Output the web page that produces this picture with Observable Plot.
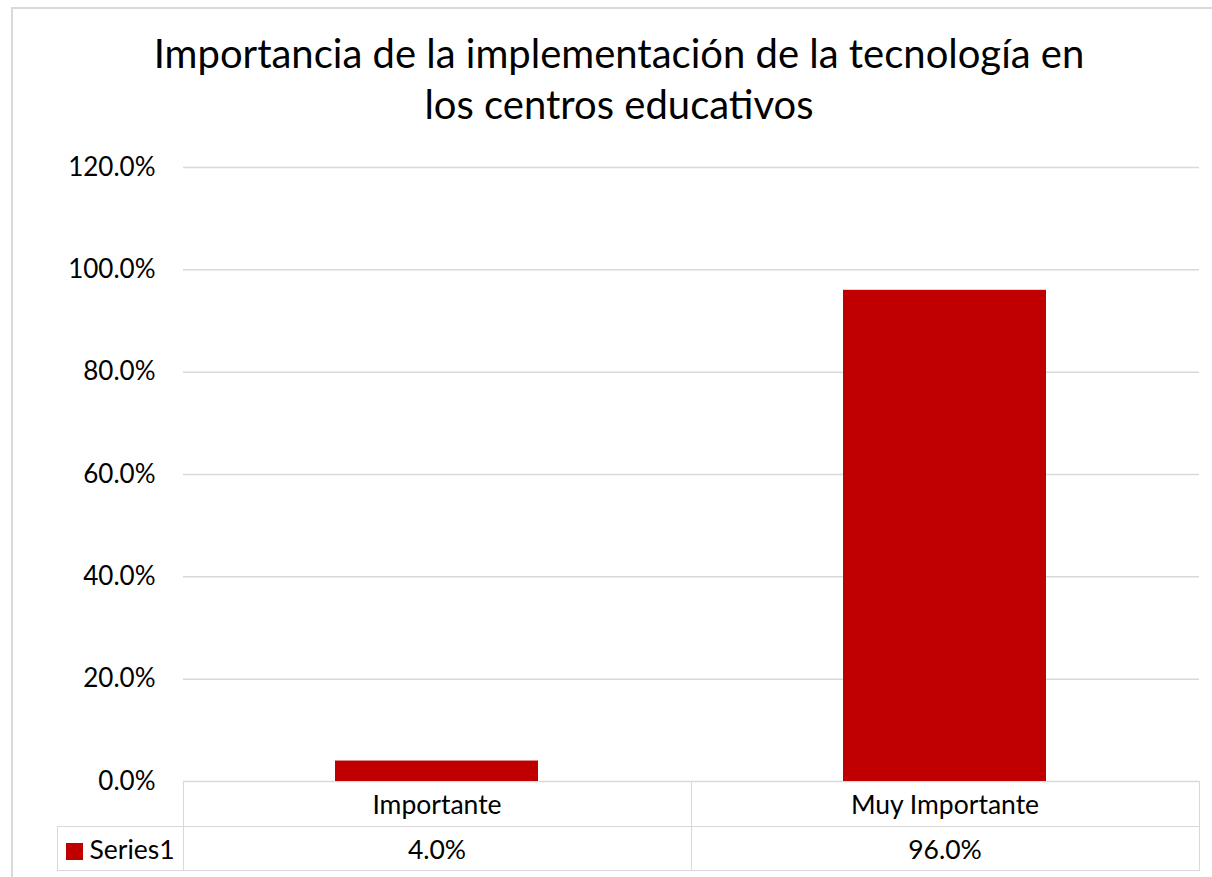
<!DOCTYPE html>
<html>
<head>
<meta charset="utf-8">
<script src="https://cdn.jsdelivr.net/npm/d3@7"></script>
<script src="https://cdn.jsdelivr.net/npm/@observablehq/plot@0.6"></script>
<style>
html,body{margin:0;padding:0;background:#fff;width:1212px;height:877px;overflow:hidden;font-family:Lato,"Open Sans",sans-serif;color:#000;}
#frame{position:absolute;left:11px;top:7px;width:1240px;height:900px;border:2px solid #d9d9d9;box-sizing:border-box;}
#title{position:absolute;left:119px;width:1000px;top:28px;text-align:center;font-size:40px;line-height:51px;color:#000;}
#chart{position:absolute;left:0;top:0;}
#dtable{position:absolute;border-collapse:collapse;table-layout:fixed;font-size:26.5px;}
#dtable td{border:1.5px solid #d9d9d9;padding:0;text-align:center;vertical-align:middle;white-space:nowrap;}
#dtable td.blank{border-top-style:hidden;border-left-style:hidden;}
#dtable td.key{text-align:left;padding-left:8px;}
.swatch{display:inline-block;width:17px;height:17px;background:#C00000;margin-right:7px;vertical-align:-1px;}
</style>
</head>
<body>
<div id="frame"></div>
<div id="title">Importancia de la implementación de la tecnología en<br>los centros educativos</div>
<div id="chart"></div>
<script>
const categories = ["Importante", "Muy Importante"];
const values = [0.04, 0.96];
const seriesName = "Series1";
const yTicks = [0, 0.2, 0.4, 0.6, 0.8, 1.0, 1.2];
const barColor = "#C00000";

const fmt = d => (d * 100).toFixed(1) + "%";
const data = categories.map((c, i) => ({category: c, value: values[i]}));

const chart = Plot.plot({
  width: 1212,
  height: 790,
  marginTop: 167,
  marginBottom: 9,
  marginLeft: 183,
  marginRight: 13,
  style: {fontFamily: "Lato, 'Open Sans', sans-serif", fontSize: "26px", color: "#000", background: "transparent", overflow: "visible"},
  x: {domain: categories, paddingInner: 0.6, paddingOuter: 0.3, axis: null},
  y: {domain: [0, 1.2], axis: null, label: null},
  marks: [
    Plot.gridY(yTicks, {stroke: "#d9d9d9", strokeOpacity: 1, strokeWidth: 1.5}),
    Plot.axisY(yTicks, {tickSize: 0, tickPadding: 28, tickFormat: fmt, fontSize: 26, fill: "#000", label: null}),
    Plot.barY(data, {x: "category", y: "value", fill: barColor})
  ]
});
document.getElementById("chart").appendChild(chart);

// Data table below the plot, aligned with the x band scale
const xs = chart.scale("x");
const ys = chart.scale("y");
const step = xs.step, bw = xs.bandwidth;
const leftPlot = xs.apply(categories[0]) + bw / 2 - step / 2;
const rowH = 45;
const keyW = 126;
const table = document.createElement("table");
table.id = "dtable";
table.style.left = (leftPlot - keyW) + "px";
table.style.top = ys.apply(0) + "px";
const cg = document.createElement("colgroup");
[keyW, ...categories.map(() => step)].forEach(w => {
  const col = document.createElement("col"); col.style.width = w + "px"; cg.appendChild(col);
});
table.appendChild(cg);
table.style.width = (keyW + step * categories.length) + "px";
const r1 = table.insertRow();
r1.style.height = rowH + "px";
const blank = r1.insertCell(); blank.className = "blank";
categories.forEach(c => { r1.insertCell().textContent = c; });
const r2 = table.insertRow();
r2.style.height = (rowH - 1) + "px";
const key = r2.insertCell(); key.className = "key";
key.innerHTML = '<span class="swatch"></span>' + seriesName;
values.forEach(v => { r2.insertCell().textContent = fmt(v); });
document.body.appendChild(table);
</script>
</body>
</html>
